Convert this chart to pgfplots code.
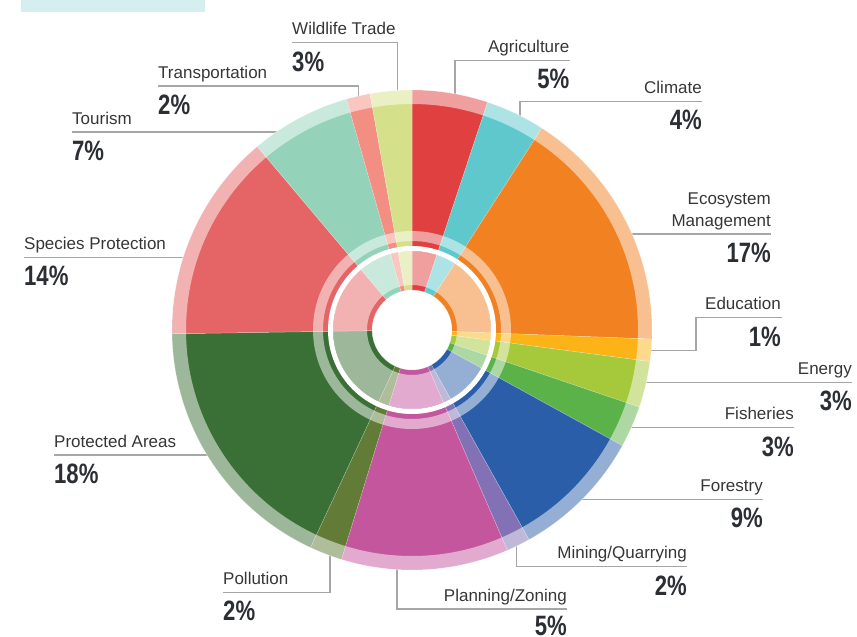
\documentclass[border=0pt]{standalone}
\usepackage{pgfplots}
\pgfplotsset{compat=1.18}
\usepackage{pgfplotstable}
\usepackage{fontspec}
\setmainfont{Liberation Sans}
\newfontfamily\pctfamily{Liberation Sans}[FakeStretch=0.79, BoldFeatures={FakeStretch=0.79}]
\usetikzlibrary{calc}

\definecolor{c0}{HTML}{E14040}  % Agriculture
\definecolor{c1}{HTML}{5EC8CD}  % Climate
\definecolor{c2}{HTML}{F28121}  % Ecosystem Management
\definecolor{c3}{HTML}{FBB317}  % Education
\definecolor{c4}{HTML}{A5C93A}  % Energy
\definecolor{c5}{HTML}{5BB249}  % Fisheries
\definecolor{c6}{HTML}{2B5EA9}  % Forestry
\definecolor{c7}{HTML}{8271B4}  % Mining/Quarrying
\definecolor{c8}{HTML}{C4569E}  % Planning/Zoning
\definecolor{c9}{HTML}{627B36}  % Pollution
\definecolor{c10}{HTML}{3A7035} % Protected Areas
\definecolor{c11}{HTML}{E56566} % Species Protection
\definecolor{c12}{HTML}{94D3B9} % Tourism
\definecolor{c13}{HTML}{F38E82} % Transportation
\definecolor{c14}{HTML}{D5E18A} % Wildlife Trade
\definecolor{leadc}{HTML}{A6A6A6}
\definecolor{namec}{HTML}{363636}
\definecolor{pctc}{HTML}{2B2E33}
\definecolor{topbar}{HTML}{D5EEF0}

% share of the circle taken by each slice (percent of 360 degrees)
\pgfplotstableread{
id name share
0 Agriculture 5.1
1 Climate 4.0
2 Ecosystem 16.5
3 Education 1.5
4 Energy 3.1
5 Fisheries 2.8
6 Forestry 8.9
7 Mining 1.6
8 Planning 11.25
9 Pollution 2.2
10 Protected 17.8
11 Species 14.1
12 Tourism 6.75
13 Transport 1.6
14 Wildlife 2.8
}\slices

\newcommand\namef{\fontsize{17}{20}\selectfont}
\newcommand\pctf{\pctfamily\bfseries\fontsize{28}{30}\selectfont}

\begin{document}
\begin{tikzpicture}[
  lead/.style={draw=leadc, line width=1.3pt},
  lab/.style={inner sep=0pt, text=namec, font=\namef},
  pc/.style={inner sep=0pt, text=pctc, font=\pctf},
]
\begin{axis}[
  x=1pt, y=1pt,
  xmin=0, xmax=857, ymin=0, ymax=637,
  y dir=reverse,
  enlargelimits=false,
  hide axis,
  clip=false,
]
% top bar
\fill[topbar] (axis cs:21,0) rectangle (axis cs:205,11.7);

% leader lines (drawn first, hidden under the ring)
\draw[lead] (axis cs:292,42.7) -- (axis cs:397.7,42.7) -- (axis cs:397.7,110);
\draw[lead] (axis cs:158,86) -- (axis cs:358.5,86) -- (axis cs:358.5,110);
\draw[lead] (axis cs:72,132) -- (axis cs:290,132);
\draw[lead] (axis cs:24,257.3) -- (axis cs:195,257.3);
\draw[lead] (axis cs:54,455) -- (axis cs:220,455);
\draw[lead] (axis cs:223,592.3) -- (axis cs:330,592.3) -- (axis cs:330,540);
\draw[lead] (axis cs:567,609) -- (axis cs:397,609) -- (axis cs:397,555);
\draw[lead] (axis cs:687,566.7) -- (axis cs:516.7,566.7) -- (axis cs:516.7,530);
\draw[lead] (axis cs:763,499.3) -- (axis cs:570,499.3);
\draw[lead] (axis cs:794,427.7) -- (axis cs:620,427.7);
\draw[lead] (axis cs:852,382.3) -- (axis cs:635,382.3);
\draw[lead] (axis cs:782,317.7) -- (axis cs:696,317.7) -- (axis cs:696,350.7) -- (axis cs:640,350.7);
\draw[lead] (axis cs:771,234) -- (axis cs:620,234);
\draw[lead] (axis cs:702,101.7) -- (axis cs:520,101.7) -- (axis cs:520,125);
\draw[lead] (axis cs:569.5,60.7) -- (axis cs:455,60.7) -- (axis cs:455,105);

% slices
\def\cum{0}
\pgfplotsforeachungrouped \i in {0,...,14}{%
  \pgfplotstablegetelem{\i}{share}\of\slices
  \pgfmathsetmacro{\a}{90-3.6*\cum}%
  \pgfmathsetmacro{\cum}{\cum+\pgfplotsretval}%
  \pgfmathsetmacro{\b}{90-3.6*\cum}%
  \edef\temp{\noexpand\fill[c\i, draw=white, draw opacity=0.3, line width=0.5pt]
    ($(axis cs:412,330)+(\a:40pt)$) arc[start angle=\a, end angle=\b, radius=40pt]
    -- ($(axis cs:412,330)+(\b:240pt)$) arc[start angle=\b, end angle=\a, radius=240pt] -- cycle;}%
  \temp
}

% tint overlays
\fill[white, opacity=0.5, even odd rule] (axis cs:412,330) circle[radius=240.5pt] (axis cs:412,330) circle[radius=226pt];
\fill[white, opacity=0.5, even odd rule] (axis cs:412,330) circle[radius=99pt] (axis cs:412,330) circle[radius=89pt];
\fill[white, even odd rule] (axis cs:412,330) circle[radius=84pt] (axis cs:412,330) circle[radius=79pt];
\fill[white, opacity=0.5, even odd rule] (axis cs:412,330) circle[radius=79pt] (axis cs:412,330) circle[radius=45pt];

% labels: left aligned
\node[lab, anchor=base west] at (axis cs:292,34.7) {Wildlife Trade};
\node[pc,  anchor=base west] at (axis cs:292,71.2) {3\%};
\node[lab, anchor=base west] at (axis cs:158,78) {Transportation};
\node[pc,  anchor=base west] at (axis cs:158,114.5) {2\%};
\node[lab, anchor=base west] at (axis cs:72,124) {Tourism};
\node[pc,  anchor=base west] at (axis cs:72,160.5) {7\%};
\node[lab, anchor=base west] at (axis cs:24,249.3) {Species Protection};
\node[pc,  anchor=base west] at (axis cs:24,285.8) {14\%};
\node[lab, anchor=base west] at (axis cs:54,447) {Protected Areas};
\node[pc,  anchor=base west] at (axis cs:54,483.5) {18\%};
\node[lab, anchor=base west] at (axis cs:223,584.3) {Pollution};
\node[pc,  anchor=base west] at (axis cs:223,620.8) {2\%};
% labels: right aligned
\node[lab, anchor=base east] at (axis cs:567,601) {Planning/Zoning};
\node[pc,  anchor=base east] at (axis cs:567,635.2) {5\%};
\node[lab, anchor=base east] at (axis cs:687,558.7) {Mining/Quarrying};
\node[pc,  anchor=base east] at (axis cs:687,595.2) {2\%};
\node[lab, anchor=base east] at (axis cs:763,491.3) {Forestry};
\node[pc,  anchor=base east] at (axis cs:763,527.8) {9\%};
\node[lab, anchor=base east] at (axis cs:794,419.7) {Fisheries};
\node[pc,  anchor=base east] at (axis cs:794,456.2) {3\%};
\node[lab, anchor=base east] at (axis cs:852,374.3) {Energy};
\node[pc,  anchor=base east] at (axis cs:852,410.8) {3\%};
\node[lab, anchor=base east] at (axis cs:781,309.7) {Education};
\node[pc,  anchor=base east] at (axis cs:781,346.2) {1\%};
\node[lab, anchor=base east] at (axis cs:771,204) {Ecosystem};
\node[lab, anchor=base east] at (axis cs:771,226) {Management};
\node[pc,  anchor=base east] at (axis cs:771,262.5) {17\%};
\node[lab, anchor=base east] at (axis cs:702,93.7) {Climate};
\node[pc,  anchor=base east] at (axis cs:702,129.2) {4\%};
\node[lab, anchor=base east] at (axis cs:569.5,52.7) {Agriculture};
\node[pc,  anchor=base east] at (axis cs:569.5,88.5) {5\%};
\end{axis}
\pgfresetboundingbox
\path[use as bounding box] (0,0) rectangle (857pt,637pt);
\end{tikzpicture}
\end{document}
